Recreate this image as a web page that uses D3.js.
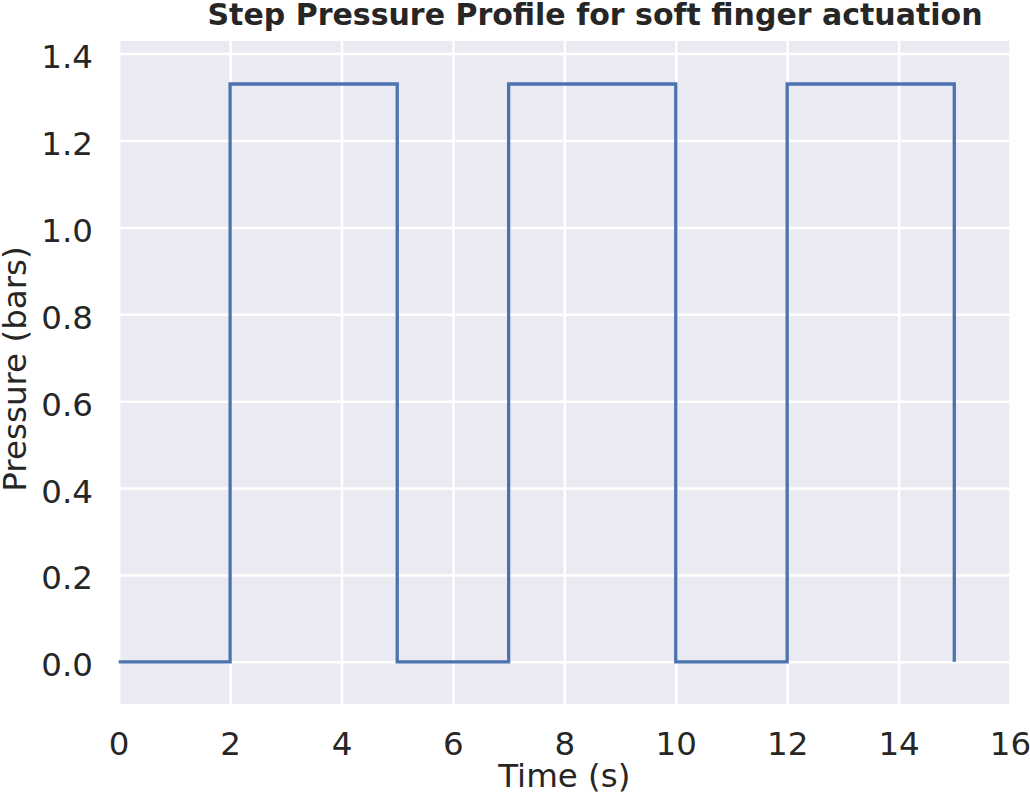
<!DOCTYPE html>
<html><head><meta charset="utf-8">
<script src="https://cdn.jsdelivr.net/npm/d3@7"></script>
<style>body{margin:0;background:#fff}text{font-family:"DejaVu Sans",sans-serif;fill:#262626}</style>
</head><body><svg id="c" width="1030" height="800"></svg>
<script>
const times = [0, 2, 5, 7, 10, 12, 15];
const pressures = [0, 1.33, 0, 1.33, 0, 1.33, 0];
const xTicks = [0, 2, 4, 6, 8, 10, 12, 14, 16];
const yTicks = [0.0, 0.2, 0.4, 0.6, 0.8, 1.0, 1.2, 1.4];
const title = "Step Pressure Profile for soft finger actuation";
const xLabel = "Time (s)";
const yLabel = "Pressure (bars)";

const L = 118.7, R = 1010, T = 41, B = 704;
const FS = 32.5;
const svg = d3.select("#c");
const x = d3.scaleLinear().domain([0, 16]).range([L, R]);
const y = d3.scaleLinear().domain([-0.097, 1.429]).range([B, T]);

svg.append("rect").attr("x", L).attr("y", T).attr("width", R - L).attr("height", B - T).attr("fill", "#eaeaf2");

const gx = svg.append("g").attr("transform", `translate(0,${B})`)
  .call(d3.axisBottom(x).tickValues(xTicks).tickSize(-(B - T)).tickPadding(27.5).tickFormat(d3.format("d")));
const gy = svg.append("g").attr("transform", `translate(${L},0)`)
  .call(d3.axisLeft(y).tickValues(yTicks).tickSize(-(R - L)).tickPadding(25.7).tickFormat(d3.format(".1f")));
[gx, gy].forEach(g => {
  g.select(".domain").remove();
  g.selectAll(".tick line").attr("stroke", "#fff").attr("stroke-width", 2.5);
  g.selectAll(".tick text").attr("font-size", FS).attr("fill", "#262626").attr("font-family", "DejaVu Sans");
});
gy.selectAll(".tick text").attr("dy", "0.43em");

const line = d3.line().x((d, i) => x(times[i])).y(d => y(d)).curve(d3.curveStepAfter);
svg.append("path").datum(pressures).attr("d", line).attr("fill", "none")
  .attr("stroke", "#4c72b0").attr("stroke-width", 3.3).attr("stroke-linejoin", "miter").attr("stroke-linecap", "butt");

svg.append("text").attr("x", 595).attr("y", 24.5).attr("text-anchor", "middle")
  .attr("font-size", 30).attr("font-weight", "bold").text(title);
svg.append("text").attr("x", (L + R) / 2).attr("y", 787).attr("text-anchor", "middle")
  .attr("font-size", FS).text(xLabel);
svg.append("text").attr("transform", `translate(25.5,369) rotate(-90)`).attr("text-anchor", "middle")
  .attr("font-size", FS).text(yLabel);
</script></body></html>
